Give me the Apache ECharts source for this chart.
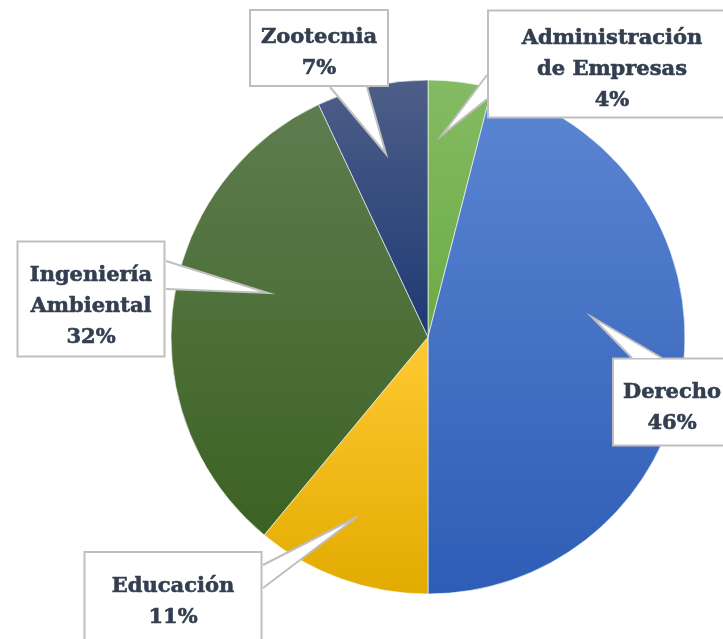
<!DOCTYPE html>
<html>
<head>
<meta charset="utf-8">
<script src="https://cdn.jsdelivr.net/npm/echarts@6/dist/echarts.min.js"></script>
<style>
  html, body { margin: 0; padding: 0; background: #fff; }
  #myChart { width: 723px; height: 639px; }
</style>
</head>
<body>
<div id="myChart"></div>
<script>
// datos del gráfico
const categories = ['Administración\nde Empresas', 'Derecho', 'Educación', 'Ingeniería\nAmbiental', 'Zootecnia'];
const values = [4, 46, 11, 32, 7];

// colores (degradado vertical por porción)
const topColors = ['#84bb63', '#5c86d2', '#ffc933', '#5e7d4f', '#4e5e88'];
const bottomColors = ['#6cab45', '#2e5db6', '#e2ab00', '#3c6222', '#1d3a74'];

// centro y radio del pastel
const CX = 428, CY = 337, R = 257;
const LINE_H = 31;

// cuadros de las etiquetas: centro x, centro y, ancho, alto, espacio superior
const boxes = [
  [612, 64, 250, 108, 11.5],
  [672, 402, 120, 89, 17.5],
  [173, 601, 179, 100, 18],
  [91, 299, 149, 117, 17.5],
  [319, 48, 140, 77, 11.5]
];
// punteros: base1, punta (relativa al centro), base2
const pointers = [
  [[487, 75], [14, -202], [487, 99]],
  [[632, 358], [164, -20], [662, 358]],
  [[263, 565], [-71, 180], [263, 588]],
  [[166, 261], [-160, -44], [166, 289]],
  [[330, 87], [-42, -183], [367, 87]]
];

let charts = echarts.init(document.getElementById('myChart'));

let seriesData = categories.map(function (name, i) {
  let b = boxes[i];
  let lines = name.split('\n').length + 1;
  let bottomSp = Math.max(0.5, b[3] - 4 - lines * LINE_H - b[4]);
  return {
    name: name,
    value: values[i],
    itemStyle: {
      color: new echarts.graphic.LinearGradient(0, 0, 0, 1, [
        { offset: 0, color: topColors[i] },
        { offset: 1, color: bottomColors[i] }
      ])
    },
    label: {
      width: b[2] - 4,
      height: b[4] + lines * LINE_H + bottomSp,
      rich: {
        s: { fontSize: 1, lineHeight: b[4] },
        e: { fontSize: 1, lineHeight: bottomSp }
      }
    }
  };
});

let graphics = [];
pointers.forEach(function (p) {
  let tip = [CX + p[1][0], CY + p[1][1]];
  graphics.push({
    type: 'polygon',
    z: 100,
    shape: { points: [p[0], tip, p[2]] },
    style: { fill: '#fff', stroke: null }
  });
  graphics.push({
    type: 'polyline',
    z: 101,
    shape: { points: [p[0], tip, p[2]] },
    style: { fill: null, stroke: '#bfbfbf', lineWidth: 2 }
  });
});

let textStyle = {
  fontFamily: 'DejaVu Serif',
  fontWeight: 'bold',
  fontSize: 21,
  lineHeight: LINE_H,
  color: '#333f50',
  textBorderColor: '#333f50',
  textBorderWidth: 0.6
};

let myOption = {
  backgroundColor: '#fff',
  animation: false,
  graphic: graphics,
  series: [
    {
      type: 'pie',
      center: [CX, CY],
      radius: R,
      startAngle: 90,
      clockwise: true,
      avoidLabelOverlap: false,
      itemStyle: {
        borderColor: 'rgba(255,255,255,0.6)',
        borderWidth: 1
      },
      label: {
        show: true,
        position: 'outside',
        formatter: function (p) {
          let lines = p.name.split('\n').concat([p.percent + '%']);
          return '{s| }\n' + lines.map(function (l) { return '{t|' + l + '}'; }).join('\n') + '\n{e| }';
        },
        rich: {
          s: { fontSize: 1, lineHeight: 10 },
          e: { fontSize: 1, lineHeight: 1 },
          t: textStyle
        },
        align: 'center',
        verticalAlign: 'middle',
        backgroundColor: '#fff',
        borderColor: '#bfbfbf',
        borderWidth: 2
      },
      labelLine: { show: false },
      labelLayout: function (params) {
        let b = boxes[params.dataIndex];
        return { x: b[0], y: b[1], align: 'center', verticalAlign: 'middle' };
      },
      data: seriesData
    }
  ]
};

charts.setOption(myOption);
</script>
</body>
</html>
